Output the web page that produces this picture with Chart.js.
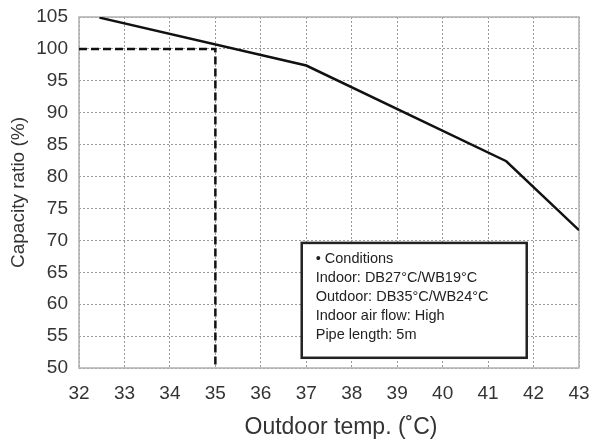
<!DOCTYPE html>
<html><head><meta charset="utf-8">
<script src="https://cdn.jsdelivr.net/npm/chart.js@4"></script>
<style>html,body{margin:0;padding:0;background:#fff}#wrap{width:591px;height:448px}</style>
</head><body><div id="wrap"><canvas id="c" width="591" height="448"></canvas></div>
<script>
const curveTemps = [32.45, 37.0, 41.4, 43.0];
const curveRatios = [104.9, 97.4, 82.4, 71.6];
const refTemps = [32, 35, 35];
const refRatios = [100, 100, 50];
const xTicks = [32,33,34,35,36,37,38,39,40,41,42,43];
const yTicks = [50,55,60,65,70,75,80,85,90,95,100,105];
const xTitle = 'Outdoor temp. (˚C)';
const yTitle = 'Capacity ratio (%)';
const noteLines = ["• Conditions","Indoor: DB27°C/WB19°C","Outdoor: DB35°C/WB24°C","Indoor air flow: High","Pipe length: 5m"];
const noteBoxX = [36.9, 41.85];
const noteBoxY = [69.6, 51.6];

const FONT = "'Liberation Sans', Arial, sans-serif";
const notePlugin = {
  id:'note',
  afterDatasetsDraw(chart){
    const {ctx, scales:{x,y}} = chart;
    const l = x.getPixelForValue(noteBoxX[0]), r = x.getPixelForValue(noteBoxX[1]);
    const t = y.getPixelForValue(noteBoxY[0]), b = y.getPixelForValue(noteBoxY[1]);
    ctx.save();
    ctx.fillStyle='#fff'; ctx.fillRect(l,t,r-l,b-t);
    ctx.strokeStyle='#222'; ctx.lineWidth=2.5; ctx.strokeRect(l,t,r-l,b-t);
    ctx.fillStyle='#222'; ctx.font="14.5px "+FONT; ctx.textBaseline='middle';
    noteLines.forEach((s,i)=>ctx.fillText(s,l+14,t+16.5+i*18.8));
    ctx.restore();
  },
  afterDraw(chart){
    const {ctx, chartArea:a} = chart;
    ctx.save();
    ctx.fillStyle='#333'; ctx.font="23px "+FONT; ctx.textAlign='center'; ctx.textBaseline='middle';
    ctx.fillText(xTitle,(a.left+a.right)/2+12,428);
    ctx.restore();
  }
};
const framePlugin = {
  id:'frame',
  beforeDatasetsDraw(chart){
    const {ctx, chartArea:a}=chart;
    ctx.save(); ctx.strokeStyle='#b0b0b0'; ctx.lineWidth=1.5;
    ctx.strokeRect(a.left,a.top,a.right-a.left,a.bottom-a.top);
    ctx.restore();
  }
};
function zeroPad(s){s.paddingTop=0;s.paddingBottom=0;s.paddingLeft=0;s.paddingRight=0;}

new Chart(document.getElementById('c'),{
  type:'scatter',
  data:{datasets:[
    {data:curveTemps.map((v,i)=>({x:v,y:curveRatios[i]})),showLine:true,borderColor:'#111',borderWidth:2.5,pointRadius:0,tension:0},
    {data:refTemps.map((v,i)=>({x:v,y:refRatios[i]})),showLine:true,borderColor:'#111',borderWidth:2.5,borderDash:[8,4],pointRadius:0,tension:0}
  ]},
  options:{
    responsive:false,animation:false,
    layout:{padding:{top:17,right:12,left:0,bottom:0}},
    plugins:{legend:{display:false},tooltip:{enabled:false}},
    scales:{
      x:{type:'linear',min:32,max:43,
        afterBuildTicks(s){s.ticks=xTicks.map(v=>({value:v}));},
        afterFit(s){s.height=80;zeroPad(s);},
        border:{display:false,dash:[2,2]},
        grid:{color:'#999',lineWidth:1,drawTicks:false},
        ticks:{color:'#333',font:{size:19,family:FONT},padding:14,maxRotation:0},
        title:{display:false}
      },
      y:{type:'linear',min:50,max:105,
        afterBuildTicks(s){s.ticks=yTicks.map(v=>({value:v}));},
        afterFit(s){s.width=79;zeroPad(s);},
        border:{display:false,dash:[2,2]},
        grid:{color:'#999',lineWidth:1,drawTicks:false},
        ticks:{color:'#333',font:{size:19,family:FONT},padding:11},
        title:{display:true,text:yTitle,color:'#333',font:{size:19,family:FONT},padding:{top:7,bottom:2}}
      }
    }
  },
  plugins:[framePlugin,notePlugin]
});
</script></body></html>
